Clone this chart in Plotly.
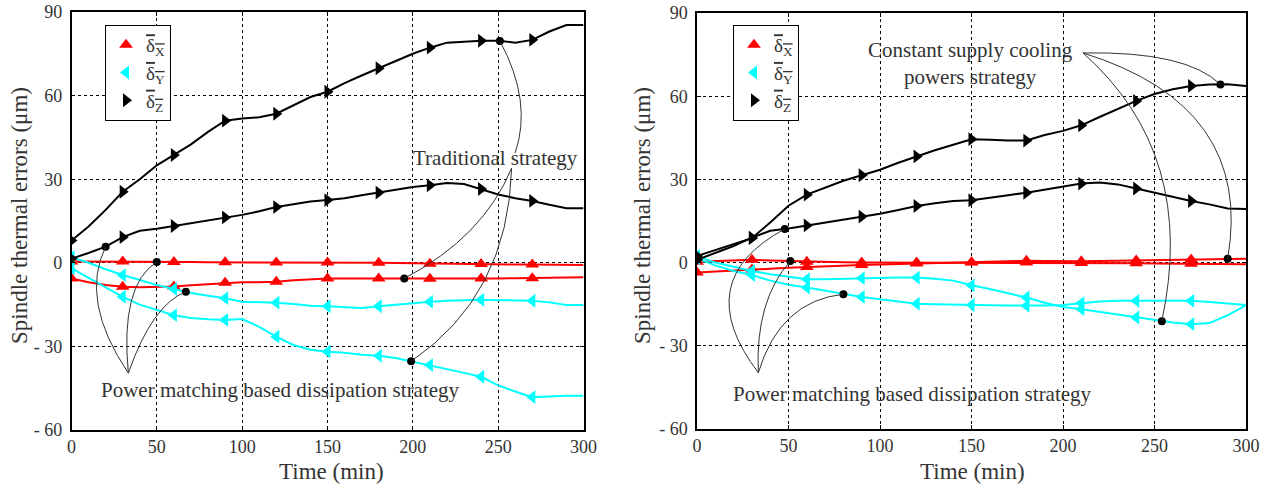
import numpy as np
import plotly.graph_objects as go

# ---------------- data ----------------
time = list(range(0, 301, 10))

# Left panel: traditional strategy vs. power matching based dissipation strategy
L_X_pm = [0.5, 0.5, 0.5, 0.5, 0.4, 0.3, 0.3, 0.3, 0.2, 0.2, 0.2, 0.2, 0.1, 0.1, 0.1, 0.1,
          0, 0, 0, -0.1, -0.2, -0.3, -0.3, -0.4, -0.4, -0.5, -0.6, -0.6, -0.7, -0.8, -0.8]
L_X_trad = [-5.6, -7, -8, -8.6, -8.8, -8.7, -8.5, -8.1, -7.7, -7.2, -7, -7, -6.8, -6.3, -5.9, -5.6,
            -5.6, -5.6, -5.6, -5.6, -5.6, -5.7, -5.8, -5.7, -5.6, -5.6, -5.5, -5.5, -5.4, -5.3, -5.2]
L_Y_pm = [2, 0, -2.3, -4.4, -6.2, -8, -9.4, -10.8, -11.8, -12.7, -14, -14.2, -14.3, -14.8, -15.4, -15.6,
          -16, -16.2, -15.6, -15, -14.5, -14, -13.6, -13.4, -13.3, -13.4, -13.6, -13.6, -14.2, -15.1, -15.1]
L_Y_trad = [-2, -5.5, -9, -12.2, -15, -17, -18.8, -19.8, -20.3, -20.5, -20.2, -23, -26.5, -29.5, -31.2, -31.9,
            -32.3, -33, -33.4, -34.2, -35.5, -36.7, -38, -39.5, -40.9, -44, -46.2, -48.2, -48, -47.7, -47.7]
L_Z_trad = [8, 13, 19, 25.5, 30, 35, 38.7, 42.5, 47, 51, 51.8, 52.2, 53.5, 56.5, 59.5, 61.4,
            64.5, 67.2, 69.8, 72.5, 75, 77.2, 79, 79.3, 79.7, 79.7, 79, 80, 83, 85.3, 85.3]
L_Z_pm = [1.5, 3.5, 5.8, 9.2, 11.5, 12.2, 13.2, 14.2, 15.2, 16.3, 17.2, 18.5, 20, 21, 22, 22.5,
          23.2, 24.2, 25.2, 26.3, 27.2, 27.8, 28.6, 28.3, 26.5, 24.5, 23.2, 22.2, 20.8, 19.6, 19.6]

# Right panel: constant supply cooling powers strategy vs. power matching strategy
R_X_pm = [0.3, 0.6, 0.8, 1.0, 0.8, 0.6, 0.3, 0.2, 0.1, 0, 0, 0, 0, 0, 0, 0,
          0, 0, 0, 0, 0, -0.1, -0.1, -0.2, -0.2, -0.3, -0.4, -0.4, -0.5, -0.6, -0.6]
R_X_const = [-3.6, -3.2, -2.8, -2.5, -2.2, -1.9, -1.6, -1.3, -1.1, -0.9, -0.7, -0.5, -0.3, -0.1, 0, 0.1,
             0.3, 0.5, 0.7, 0.6, 0.5, 0.5, 0.6, 0.7, 0.8, 0.8, 0.9, 1.1, 1.3, 1.4, 1.4]
R_Y_const = [2.4, 0, -1.5, -3, -4.2, -5.2, -6, -6, -5.8, -5.6, -5.5, -5.4, -5.4, -5.8, -6.5, -8.2,
             -9.5, -11, -12.6, -14.5, -16, -16.8, -17.8, -18.8, -19.8, -20.8, -21.6, -22.2, -21.8, -19, -15.3]
R_Y_pm = [1.5, -1, -3, -4.5, -6.5, -8, -9, -10.2, -11.4, -12.4, -13.2, -14, -14.8, -15, -15.2, -15.3,
          -15.4, -15.5, -15.6, -15.5, -15.3, -14.6, -14, -13.8, -13.8, -13.8, -13.8, -13.8, -14.2, -14.8, -15.3]
R_Z_const = [2.4, 4.5, 6.5, 8.8, 14.5, 20.5, 24.5, 27, 29.5, 31.5, 33.5, 36, 38.3, 40.5, 42.5, 44.5,
             44.3, 44, 44, 46, 47.5, 49.5, 52.5, 55.5, 58.3, 60.8, 62.5, 63.7, 64.2, 64.3, 63.7]
R_Z_pm = [1, 3.5, 6, 9, 11.5, 12.3, 13.4, 14.4, 15.5, 16.6, 17.6, 19, 20.4, 21.4, 22.2, 22.5,
          23.3, 24.3, 25.2, 26.3, 27.4, 28.5, 28.9, 28.2, 26.7, 25.2, 23.7, 22.2, 21, 19.5, 19.3]

x_ticks = [0, 50, 100, 150, 200, 250, 300]
y_ticks = [-60, -30, 0, 30, 60, 90]
y_ticktext = ["- 60", "- 30", "0", "30", "60", "90"]

legend_names = ['<span style="text-decoration:overline">δ<sub>X</sub></span>',
                '<span style="text-decoration:overline">δ<sub>Y</sub></span>',
                '<span style="text-decoration:overline">δ<sub>Z</sub></span>']

# ---------------- styling ----------------
FONT = "Liberation Serif"
TXT_COLOR = "#333333"
RED, CYAN, BLACK = "#ff0000", "#00ffff", "#000000"
MARK_EVERY = 3

WF, HF = 1271, 486


def fx(px):
    return px / WF


def fy(py):
    return 1 - py / HF


fig = go.Figure()


def add_series(t, v, color, symbol, xa, ya, name=None, legend="legend"):
    fig.add_trace(go.Scatter(x=t, y=v, mode="lines", line=dict(color=color, width=2),
                             xaxis=xa, yaxis=ya, showlegend=False, hoverinfo="skip"))
    fig.add_trace(go.Scatter(x=t[::MARK_EVERY][:10], y=v[::MARK_EVERY][:10], mode="markers",
                             marker=dict(color=color, symbol=symbol, size=12),
                             xaxis=xa, yaxis=ya, name=name, showlegend=name is not None,
                             legend=legend, hoverinfo="skip"))


# Left panel
add_series(time, L_X_pm, RED, "triangle-up", "x", "y", legend_names[0], "legend")
add_series(time, L_X_trad, RED, "triangle-up", "x", "y")
add_series(time, L_Y_pm, CYAN, "triangle-left", "x", "y", legend_names[1], "legend")
add_series(time, L_Y_trad, CYAN, "triangle-left", "x", "y")
add_series(time, L_Z_trad, BLACK, "triangle-right", "x", "y", legend_names[2], "legend")
add_series(time, L_Z_pm, BLACK, "triangle-right", "x", "y")

# Right panel
add_series(time, R_X_pm, RED, "triangle-up", "x2", "y2", legend_names[0], "legend2")
add_series(time, R_X_const, RED, "triangle-up", "x2", "y2", None, "legend2")
add_series(time, R_Y_const, CYAN, "triangle-left", "x2", "y2", legend_names[1], "legend2")
add_series(time, R_Y_pm, CYAN, "triangle-left", "x2", "y2", None, "legend2")
add_series(time, R_Z_const, BLACK, "triangle-right", "x2", "y2", legend_names[2], "legend2")
add_series(time, R_Z_pm, BLACK, "triangle-right", "x2", "y2", None, "legend2")


def pt(t0, series):
    return float(t0), float(np.interp(t0, time, series))


# annotation leader lines: (hub, control, anchor on a series)
leaders = {
    ("x", "y"): [
        ((259.9, 39.4), (270.3, 57.7), pt(251, L_Z_trad)),
        ((257.9, 34.0), (241.3, 9.3), pt(195, L_X_trad)),
        ((257.9, 34.0), (255.9, -11.6), pt(199, L_Y_trad)),
        ((33.3, -39.6), (4.6, -13.5), pt(20, L_Z_pm)),
        ((33.3, -39.6), (28.4, -7.9), pt(50, L_X_pm)),
        ((33.3, -39.6), (47.2, -15.1), pt(67, L_Y_pm)),
    ],
    ("x2", "y2"): [
        ((210.9, 75.6), (267.2, 76.3), pt(286, R_Z_const)),
        ((210.9, 75.6), (304.4, 56.5), pt(290, R_X_const)),
        ((210.9, 75.6), (273.6, 39.0), pt(254, R_Y_const)),
        ((33.5, -39.7), (-4.6, -6.6), pt(48, R_Z_pm)),
        ((33.5, -39.7), (31.7, -13.8), pt(51, R_X_pm)),
        ((33.5, -39.7), (45.4, -13.8), pt(80, R_Y_pm)),
    ],
}

shapes = []
for (xa, ya), items in leaders.items():
    dots_x, dots_y = [], []
    for (h, c, a) in items:
        shapes.append(dict(type="path", xref=xa, yref=ya,
                           path=f"M {h[0]},{h[1]} Q {c[0]},{c[1]} {a[0]},{a[1]}",
                           line=dict(color="#333333", width=1), layer="above"))
        dots_x.append(a[0])
        dots_y.append(a[1])
    fig.add_trace(go.Scatter(x=dots_x, y=dots_y, mode="markers",
                             marker=dict(color="black", size=8, symbol="circle"),
                             xaxis=xa, yaxis=ya, showlegend=False, hoverinfo="skip"))

txt = dict(family=FONT, size=21, color=TXT_COLOR)
title_font = dict(family=FONT, size=23, color=TXT_COLOR)
center = dict(xanchor="center", yanchor="middle", showarrow=False)
annotations = [
    dict(center, x=248.4, y=37.5, xref="x", yref="y", text="Traditional strategy", font=txt),
    dict(center, x=122.7, y=-45.6, xref="x", yref="y",
         text="Power matching based dissipation strategy", font=txt),
    dict(center, x=149.2, y=71.7, xref="x2", yref="y2",
         text="Constant supply cooling<br>powers strategy", font=txt, align="center"),
    dict(center, x=117.8, y=-47.4, xref="x2", yref="y2",
         text="Power matching based dissipation strategy", font=txt),
    # axis titles
    dict(center, x=fx(331), y=fy(471), xref="paper", yref="paper", text="Time (min)", font=title_font),
    dict(center, x=fx(972), y=fy(471), xref="paper", yref="paper", text="Time (min)", font=title_font),
    dict(center, x=fx(19), y=fy(216), xref="paper", yref="paper",
         text="Spindle thermal errors (μm)", font=title_font, textangle=-90),
    dict(center, x=fx(642), y=fy(216), xref="paper", yref="paper",
         text="Spindle thermal errors (μm)", font=title_font, textangle=-90),
]

axis_common = dict(showline=True, linecolor="black", linewidth=1.5, mirror="ticks",
                   ticks="inside", ticklen=4, tickcolor="black", automargin=False,
                   showgrid=True, gridcolor="black", griddash="dot", gridwidth=1.3,
                   zeroline=False, ticklabeloverflow="allow",
                   tickfont=dict(family=FONT, size=18, color=TXT_COLOR))

xaxis = dict(axis_common, range=[0, 300], tickvals=x_ticks)
yaxis = dict(axis_common, range=[-60, 90], tickvals=y_ticks, ticktext=y_ticktext,
             ticklabelstandoff=4)

legend_common = dict(bgcolor="white", bordercolor="black", borderwidth=1,
                     font=dict(family=FONT, size=19, color=TXT_COLOR),
                     xanchor="left", yanchor="top", tracegroupgap=0, itemwidth=30)

fig.update_layout(
    width=WF, height=HF, margin=dict(l=0, r=0, t=0, b=0, autoexpand=False),
    paper_bgcolor="white", plot_bgcolor="white",
    xaxis=dict(xaxis, domain=[fx(71.5), fx(583.5)], anchor="y"),
    yaxis=dict(yaxis, domain=[fy(430), fy(12)], anchor="x"),
    xaxis2=dict(xaxis, domain=[fx(697), fx(1246)], anchor="y2"),
    yaxis2=dict(yaxis, domain=[fy(429), fy(13)], anchor="x2"),
    legend=dict(legend_common, x=fx(105), y=fy(25)),
    legend2=dict(legend_common, x=fx(733), y=fy(25)),
    shapes=shapes, annotations=annotations,
)

# remove the default 8px page margin so the figure sits at the window's top-left corner
fig.write_html("out.html", config={"displayModeBar": False},
               post_script="document.body.style.margin='0px';")
